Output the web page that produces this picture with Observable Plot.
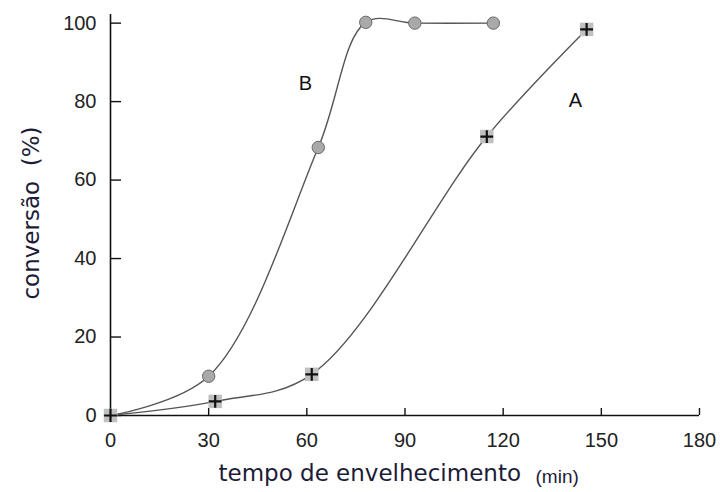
<!DOCTYPE html>
<html>
<head>
<meta charset="utf-8">
<script src="https://cdn.jsdelivr.net/npm/d3@7"></script>
<script src="https://cdn.jsdelivr.net/npm/@observablehq/plot@0.6"></script>
<style>
  html, body { margin: 0; padding: 0; background: #fff; }
  svg { display: block; }
</style>
</head>
<body>
<div id="chart"></div>
<script>
// Series B (circles)
const timeB = [0, 30, 63.5, 78, 93, 117];
const convB = [0, 10, 68.3, 100.2, 100, 100];
// Series A (squares with plus)
const timeA = [0, 32, 61.5, 115, 145.5];
const convA = [0, 3.6, 10.5, 71.1, 98.4];
// Series labels
const seriesNames = ["B", "A"];
const labelTime = [59.6, 142.1];
const labelConv = [84.6, 80.3];
// Axis ticks
const xTicks = [0, 30, 60, 90, 120, 150, 180];
const yTicks = [0, 20, 40, 60, 80, 100];
const xLabel = "tempo de envelhecimento";
const xUnit = "(min)";
const yLabel = "conversão  (%)";

const B = timeB.map((t, i) => ({t, c: convB[i]}));
const A = timeA.map((t, i) => ({t, c: convA[i]}));
const labels = seriesNames.map((s, i) => ({s, t: labelTime[i], c: labelConv[i]}));

const W = 724, H = 492, mL = 110, mR = 25, mT = 14, mB = 77;
const frameW = W - mL - mR, frameH = H - mT - mB;

const tickFont = "Liberation Sans, Arial, sans-serif";
const labelFont = "DejaVu Sans, sans-serif";
const titleColor = "#1c1c38";

const chart = Plot.plot({
  width: W,
  height: H,
  marginLeft: mL,
  marginRight: mR,
  marginTop: mT,
  marginBottom: mB,
  style: {background: "#fff", color: "#222"},
  x: {domain: [0, 180], ticks: xTicks},
  y: {domain: [0, 102.2], ticks: yTicks},
  marks: [
    // axis lines
    Plot.ruleX([0], {stroke: "#111", strokeWidth: 1.6}),
    Plot.ruleY([0], {stroke: "#111", strokeWidth: 1.6}),
    // inward ticks
    Plot.ruleY(yTicks, {stroke: "#111", strokeWidth: 1.4, insetRight: frameW - 11}),
    Plot.ruleX(xTicks, {stroke: "#111", strokeWidth: 1.4, insetTop: frameH - 7}),
    // tick labels
    Plot.axisY(yTicks, {anchor: "left", tickSize: 0, tickPadding: 14, fontSize: 20, fontFamily: tickFont, fill: "#222", label: null}),
    Plot.axisX(xTicks, {anchor: "bottom", tickSize: 0, tickPadding: 17, fontSize: 20, fontFamily: tickFont, fill: "#222", label: null}),
    // axis titles
    Plot.text([xLabel], {frameAnchor: "bottom-left", textAnchor: "start", lineAnchor: "middle", dx: 108, dy: 58, fontSize: 23, fontFamily: labelFont, fill: titleColor}),
    Plot.text([xUnit], {frameAnchor: "bottom-left", textAnchor: "start", lineAnchor: "middle", dx: 425, dy: 61, fontSize: 19, fontFamily: tickFont, fill: titleColor}),
    Plot.text([yLabel], {frameAnchor: "left", textAnchor: "middle", lineAnchor: "middle", dx: -79, dy: -2, rotate: -90, fontSize: 23, fontFamily: labelFont, fill: titleColor}),
    // curves
    Plot.line(B, {x: "t", y: "c", curve: "catmull-rom", stroke: "#555", strokeWidth: 1.4}),
    Plot.line(A, {x: "t", y: "c", curve: "catmull-rom", stroke: "#555", strokeWidth: 1.4}),
    // markers
    Plot.dot(B, {x: "t", y: "c", r: 6.2, fill: "#a9a9a9", stroke: "#6a6a6a", strokeWidth: 1}),
    Plot.dot(A, {x: "t", y: "c", symbol: "square", r: 7.6, fill: "#c0c0c0", stroke: "none"}),
    Plot.dot(A, {x: "t", y: "c", symbol: "plus", r: 4.2, stroke: "#111", strokeWidth: 2.2}),
    // series labels
    Plot.text(labels, {x: "t", y: "c", text: "s", fontSize: 20, fontFamily: tickFont, fill: "#111"})
  ]
});
document.getElementById("chart").appendChild(chart);
</script>
</body>
</html>
